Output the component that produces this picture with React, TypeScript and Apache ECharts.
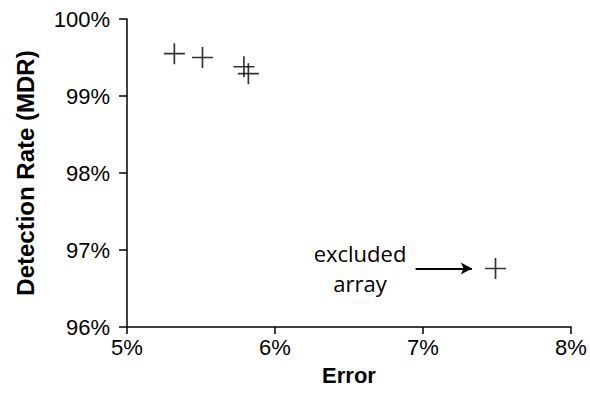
import React, { useEffect, useRef } from "react";
import * as echarts from "echarts";

// Data (percent)
const errorRates = [5.32, 5.51, 5.79, 5.82, 7.49];
const detectionRates = [99.55, 99.5, 99.38, 99.29, 96.76];
const xTicks = [5, 6, 7, 8];
const yTicks = [96, 97, 98, 99, 100];
const arrowFrom = [6.95, 96.76];
const arrowTo = [7.33, 96.76];
const annotationLines = ["excluded", "array"];

const PLUS = "path://M9.2,0H10.8V9.2H20V10.8H10.8V20H9.2V10.8H0V9.2H9.2Z";

export default function App() {
  const ref = useRef<HTMLDivElement>(null);
  useEffect(() => {
    if (!ref.current) return;
    const chart = echarts.init(ref.current, null, { renderer: "svg" });
    const font = "Liberation Sans, Arial, sans-serif";
    chart.setOption({
      animation: false,
      backgroundColor: "#fff",
      grid: { left: 127, right: 19, top: 19, bottom: 67, outerBoundsMode: "none", containLabel: false },
      xAxis: {
        type: "value",
        min: xTicks[0],
        max: xTicks[xTicks.length - 1],
        interval: 1,
        name: "Error",
        nameLocation: "middle",
        nameGap: 37,
        nameTextStyle: { fontFamily: font, fontSize: 22, fontWeight: "bold", color: "#000" },
        axisLine: { lineStyle: { color: "#000", width: 1.5 } },
        axisTick: { show: true, length: 7, lineStyle: { color: "#000", width: 1.5 } },
        axisLabel: { formatter: "{value}%", fontFamily: font, fontSize: 22, color: "#000", margin: 9 },
        splitLine: { show: false },
      },
      yAxis: {
        type: "value",
        min: yTicks[0],
        max: yTicks[yTicks.length - 1],
        interval: 1,
        name: "Detection Rate (MDR)",
        nameLocation: "middle",
        nameGap: 90,
        nameTextStyle: { fontFamily: font, fontSize: 24, fontWeight: "bold", color: "#000" },
        axisLine: { show: true, lineStyle: { color: "#000", width: 1.5 } },
        axisTick: { show: true, length: 8, lineStyle: { color: "#000", width: 1.5 } },
        axisLabel: { formatter: "{value}%", fontFamily: font, fontSize: 22, color: "#000", margin: 17 },
        splitLine: { show: false },
      },
      series: [
        {
          type: "scatter",
          data: errorRates.map((x, i) => [x, detectionRates[i]]),
          symbol: PLUS,
          symbolSize: 21,
          itemStyle: { color: "#000" },
          markLine: {
            silent: true,
            symbol: ["none", "arrow"],
            symbolSize: [9, 11],
            label: { show: false },
            lineStyle: { color: "#000", width: 2.2, type: "solid" },
            data: [[{ coord: arrowFrom }, { coord: arrowTo }]],
          },
        },
      ],
      graphic: [
        {
          type: "text",
          x: 360,
          y: 238,
          style: {
            text: annotationLines.join("\n"),
            font: "22px 'Open Sans', sans-serif",
            lineHeight: 30,
            fill: "#000",
            align: "center",
          },
        },
      ],
    });
    return () => chart.dispose();
  }, []);
  return <div ref={ref} style={{ width: 590, height: 394, position: "absolute", left: 0, top: 0 }} />;
}
